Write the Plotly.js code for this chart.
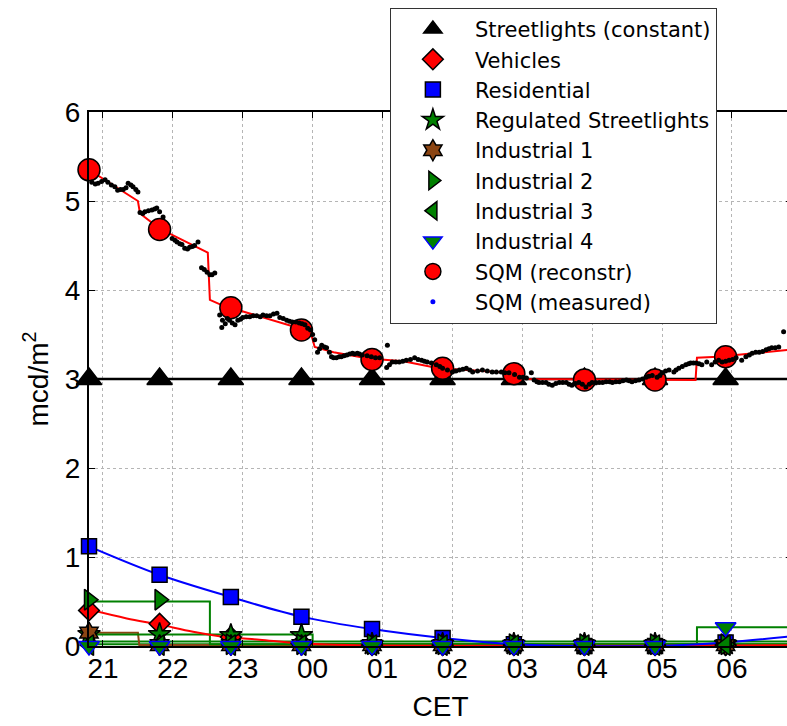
<!DOCTYPE html>
<html>
<head>
<meta charset="utf-8">
<script src="https://cdn.plot.ly/plotly-3.0.1.min.js"></script>
<style>
html, body { margin: 0; padding: 0; overflow: hidden; background: #fff; }
#chart { width: 792px; height: 726px; }
</style>
</head>
<body>
<div id="chart"></div>
<script>
// ---- axis ticks (hours since 21:00, continuing past midnight as 24, 25 ...)
const hourTicks = [21, 22, 23, 24, 25, 26, 27, 28, 29, 30];
const tickLabels = ['21', '22', '23', '00', '01', '02', '03', '04', '05', '06'];

// ---- marker sample times
const markerTimes = [20.8, 21.81, 22.83, 23.84, 24.85, 25.86, 26.88, 27.89, 28.9, 29.91];

// ---- marker values per component
const streetlightsMk = [3, 3, 3, 3, 3, 3, 3, 3, 3, 3];
const vehiclesMk = [0.40, 0.25, 0.10, 0.03, 0.01, 0.01, 0.01, 0.01, 0.01, 0.01];
const residentialMk = [1.12, 0.80, 0.55, 0.33, 0.19, 0.09, 0.02, 0.0, 0.0, 0.04];
const regulatedMk = [0.13, 0.13, 0.12, 0.12, 0.02, 0.02, 0.02, 0.02, 0.02, 0.02];
const industrial1Mk = [0.15, 0.01, 0.01, 0.01, 0.01, 0.01, 0.01, 0.01, 0.01, 0.01];
const industrial2Mk = [0.52, 0.52, 0.02, 0.02, 0.02, 0.02, 0.02, 0.02, 0.02, 0.02];
const industrial3Mk = [0.01, 0.01, 0.01, 0.01, 0.01, 0.01, 0.01, 0.01, 0.01, 0.01];
const industrial4Mk = [0.0, 0.0, 0.0, 0.0, 0.0, 0.0, 0.0, 0.0, 0.0, 0.21];
const sqmReconMk = [5.35, 4.68, 3.80, 3.55, 3.22, 3.12, 3.06, 2.99, 2.99, 3.25];

// ---- continuous component curves
const streetLineT = [20.8, 30.86];
const streetLineV = [3, 3];
const vehiclesLineT = [20.8, 21.34, 21.81, 22.29, 22.77, 23.24, 23.81, 24.5, 30.86];
const vehiclesLineV = [0.41, 0.31, 0.24, 0.16, 0.10, 0.07, 0.03, 0.01, 0.01];
const residentialLineT = [20.8, 21.81, 22.83, 23.84, 24.85, 25.86, 26.88, 27.89, 28.9, 29.91, 30.86];
const residentialLineV = [1.12, 0.80, 0.55, 0.33, 0.19, 0.09, 0.02, 0.0, 0.0, 0.04, 0.11];
const regulatedLineT = [20.8, 24.0, 24.0, 30.86];
const regulatedLineV = [0.13, 0.13, 0.02, 0.02];
const industrial1LineT = [20.8, 21.5, 21.52, 30.86];
const industrial1LineV = [0.15, 0.15, 0.01, 0.01];
const industrial2LineT = [20.8, 22.53, 22.53, 30.86];
const industrial2LineV = [0.50, 0.50, 0.02, 0.02];
const industrial3LineT = [20.8, 30.86];
const industrial3LineV = [0.05, 0.05];
const industrial4LineT = [20.8, 29.5, 29.5, 30.86];
const industrial4LineV = [0.02, 0.02, 0.21, 0.21];
const sqmReconLineT = [20.8, 21.5, 21.53, 21.81, 22.5, 22.53, 22.7, 23.81, 23.98, 24.03, 24.3, 24.8, 25.3, 25.8, 26.85, 26.95, 29.48, 29.5, 29.8, 30.86];
const sqmReconLineV = [5.35, 5.00, 4.86, 4.69, 4.42, 3.89, 3.83, 3.57, 3.50, 3.36, 3.30, 3.23, 3.20, 3.12, 3.07, 3.00, 2.99, 3.24, 3.25, 3.33];

// ---- SQM measured samples
const sqmMeasT = [20.84, 20.89, 20.93, 20.98, 21.03, 21.07, 21.12, 21.17, 21.21, 21.25, 21.29, 21.33, 21.36, 21.40, 21.43, 21.47, 21.50,
  21.53, 21.57, 21.60, 21.65, 21.70, 21.74, 21.77, 21.81, 21.86, 21.99, 22.03, 22.06, 22.10, 22.13, 22.17, 22.21, 22.24, 22.28, 22.31, 22.36,
  22.41, 22.45, 22.49, 22.53, 22.56, 22.60, 22.67, 22.70, 22.71, 22.75, 22.78, 22.81, 22.85, 22.89, 22.93, 22.97, 23.00, 23.05, 23.10, 23.15, 23.20,
  23.25, 23.29, 23.34, 23.39, 23.44, 23.49, 23.53, 23.58, 23.63, 23.67, 23.71, 23.76, 23.81, 23.85, 23.89, 23.93, 23.97, 24.00, 24.03, 24.07, 24.10, 24.13,
  24.17, 24.20, 24.24, 24.27, 24.30, 24.34, 24.38, 24.41, 24.45, 24.49, 24.53, 24.57, 24.60, 24.64, 24.67, 24.71, 24.78, 24.84, 24.90, 24.96, 25.06, 25.07, 25.10, 25.14,
  25.19, 25.24, 25.29, 25.34, 25.40, 25.46, 25.51, 25.56, 25.60, 25.64, 25.70, 25.77, 25.82, 25.86, 25.93, 26.00, 26.05, 26.10, 26.15, 26.20, 26.25, 26.29, 26.36, 26.43, 26.50, 26.57,
  26.63, 26.70, 26.75, 26.81, 26.89, 26.96, 27.01, 27.06, 27.13, 27.17, 27.21, 27.24, 27.29, 27.34, 27.38, 27.43, 27.48, 27.53, 27.58, 27.63, 27.67, 27.71, 27.76, 27.81,
  27.86, 27.91, 27.96, 28.00, 28.05, 28.10, 28.15, 28.20, 28.25, 28.29, 28.34, 28.39, 28.44, 28.49, 28.53, 28.57, 28.62, 28.67, 28.72, 28.77, 28.81, 28.86, 28.93, 28.97, 29.00,
  29.05, 29.10, 29.17, 29.20, 29.24, 29.29, 29.34, 29.38, 29.41, 29.45, 29.49, 29.53, 29.57, 29.64, 29.71, 29.76, 29.81, 29.86, 29.91, 29.96, 30.01, 30.06,
  30.14, 30.20, 30.25, 30.29, 30.34, 30.39, 30.44, 30.49, 30.53, 30.57, 30.62, 30.67, 30.74];
const sqmMeasV = [5.21, 5.19, 5.20, 5.22, 5.24, 5.21, 5.18, 5.16, 5.12, 5.13, 5.13, 5.15, 5.20, 5.18, 5.16, 5.13, 5.10,
  4.87, 4.86, 4.88, 4.89, 4.90, 4.91, 4.92, 4.88, 4.82, 4.58, 4.56, 4.54, 4.52, 4.51, 4.47, 4.46, 4.48, 4.49, 4.50, 4.54,
  4.25, 4.23, 4.20, 4.17, 4.17, 4.19, 3.72, 3.58, 3.66, 3.62, 3.68, 3.66, 3.63, 3.61, 3.66, 3.67, 3.69, 3.70, 3.70, 3.71, 3.71,
  3.70, 3.72, 3.71, 3.71, 3.73, 3.74, 3.69, 3.68, 3.66, 3.65, 3.64, 3.64, 3.63, 3.62, 3.61, 3.57, 3.55, 3.50, 3.44, 3.30, 3.34, 3.38,
  3.36, 3.35, 3.30, 3.25, 3.24, 3.24, 3.25, 3.25, 3.26, 3.27, 3.28, 3.29, 3.28, 3.29, 3.28, 3.27, 3.26, 3.25, 3.24, 3.24, 3.13, 3.38, 3.16, 3.19,
  3.19, 3.19, 3.20, 3.21, 3.22, 3.24, 3.22, 3.21, 3.20, 3.19, 3.18, 3.16, 3.14, 3.12, 3.10, 3.08, 3.09, 3.10, 3.11, 3.12, 3.10, 3.08, 3.09, 3.10, 3.09, 3.08,
  3.08, 3.08, 3.07, 3.07, 3.05, 3.02, 3.02, 3.01, 3.07, 2.99, 2.97, 2.96, 2.96, 2.96, 2.94, 2.93, 2.95, 2.96, 2.96, 2.96, 2.94, 2.93, 2.95, 2.96,
  2.94, 2.91, 2.94, 2.96, 2.96, 2.96, 2.96, 2.97, 2.97, 2.96, 2.97, 2.97, 2.98, 2.99, 2.98, 2.97, 2.98, 2.99, 3.00, 3.02, 3.03, 3.04, 3.02, 3.04, 3.07,
  3.09, 3.10, 3.08, 3.10, 3.12, 3.14, 3.16, 3.17, 3.18, 3.18, 3.18, 3.17, 3.16, 3.19, 3.16, 3.19, 3.21, 3.19, 3.20, 3.21, 3.22, 3.24,
  3.21, 3.25, 3.27, 3.29, 3.30, 3.30, 3.31, 3.33, 3.34, 3.35, 3.35, 3.36, 3.53];

const GREEN = '#008000';
const BROWN = '#8b4513';

function line(t, v, color, width, shape) {
  return { x: t, y: v, type: 'scatter', mode: 'lines', showlegend: false, hoverinfo: 'skip',
           line: { color: color, width: width, shape: shape || 'linear' } };
}
function mk(name, v, symbol, size, fill, edge) {
  return { x: markerTimes, y: v, name: name, type: 'scatter', mode: 'markers', cliponaxis: false,
           marker: { symbol: symbol, size: size, color: fill, line: { color: edge || 'black', width: 1.5 } } };
}

const traces = [
  line(industrial3LineT, industrial3LineV, GREEN, 2),
  line(industrial4LineT, industrial4LineV, GREEN, 2),
  line(industrial1LineT, industrial1LineV, BROWN, 2),
  line(regulatedLineT, regulatedLineV, GREEN, 2),
  line(industrial2LineT, industrial2LineV, GREEN, 2),
  line(vehiclesLineT, vehiclesLineV, 'red', 2, 'spline'),
  line(residentialLineT, residentialLineV, 'blue', 2, 'spline'),
  line(streetLineT, streetLineV, 'black', 2.5),
  line(sqmReconLineT, sqmReconLineV, 'red', 2),
  mk('Streetlights (constant)', streetlightsMk, 'triangle-up', 22, 'black'),
  mk('Vehicles', vehiclesMk, 'diamond', 16, 'red'),
  mk('Residential', residentialMk, 'square', 15, 'blue'),
  mk('Regulated Streetlights', regulatedMk, 'star', 17, GREEN),
  mk('Industrial 1', industrial1Mk, 'hexagram', 16, BROWN),
  mk('Industrial 2', industrial2Mk, 'triangle-right', 18, GREEN),
  mk('Industrial 3', industrial3Mk, 'triangle-left', 18, GREEN),
  mk('Industrial 4', industrial4Mk, 'triangle-down', 18, GREEN, 'blue'),
  mk('SQM (reconstr)', sqmReconMk, 'circle', 22, 'red'),
  { x: [null], y: [null], name: 'SQM (measured)', type: 'scatter', mode: 'markers',
    marker: { symbol: 'circle', size: 5, color: 'blue' } },
  { x: sqmMeasT, y: sqmMeasV, type: 'scatter', mode: 'markers', showlegend: false, hoverinfo: 'skip',
    marker: { symbol: 'circle', size: 5, color: 'black' } }
];

const axisCommon = {
  ticks: 'inside', ticklen: 6, tickwidth: 1, tickcolor: 'black',
  showline: true, linecolor: 'black', linewidth: 2, mirror: 'ticks',
  showgrid: true, gridcolor: '#b5b5b5', griddash: 'dot', gridwidth: 1,
  zeroline: false, tickfont: { size: 28, color: 'black' }
};

const layout = {
  width: 792, height: 726,
  margin: { l: 89, r: 0, t: 112, b: 80 },
  paper_bgcolor: 'white', plot_bgcolor: 'white',
  font: { family: '"Liberation Sans", Arial, sans-serif', size: 28, color: 'black' },
  showlegend: true,
  xaxis: Object.assign({}, axisCommon, {
    range: [20.8, 30.86], tickmode: 'array', tickvals: hourTicks, ticktext: tickLabels,
    ticklabelstandoff: -4,
    title: { text: 'CET', font: { size: 28 }, standoff: 14 }
  }),
  yaxis: Object.assign({}, axisCommon, {
    range: [0, 6], dtick: 1, tick0: 0, ticklabelstandoff: 1,
    title: { text: 'mcd/m<sup>2</sup>', font: { size: 28 }, standoff: 8 }
  }),
  legend: {
    x: 0.428, y: 1.195, xanchor: 'left', yanchor: 'top',
    bgcolor: 'white', bordercolor: '#333', borderwidth: 1,
    font: { family: '"DejaVu Sans", sans-serif', size: 21, color: 'black' }, itemwidth: 74, traceorder: 'normal'
  }
};

Plotly.newPlot('chart', traces, layout, { displayModeBar: false, staticPlot: true });
</script>
</body>
</html>
